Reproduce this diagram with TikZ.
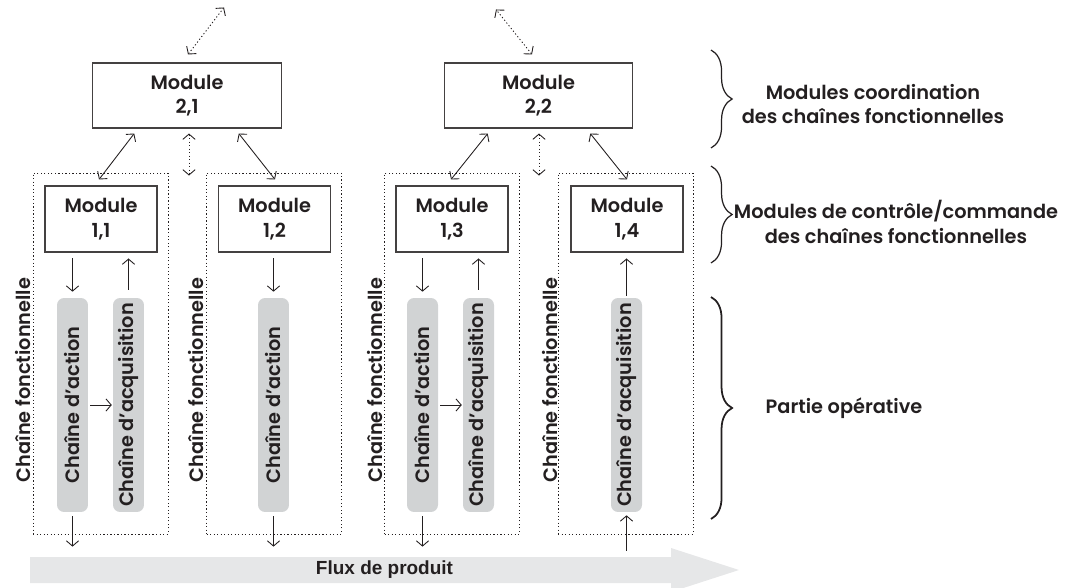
\documentclass[tikz,border=0pt]{standalone}
\usepackage{fontspec}
\setmainfont{Poppins}[UprightFont=* Medium, BoldFont=* SemiBold]
\newfontfamily\fluxfont{Liberation Sans}
\usetikzlibrary{arrows.meta,positioning,decorations.pathreplacing}

\definecolor{ink}{HTML}{231F20}
\definecolor{bargray}{HTML}{D1D3D4}
\definecolor{fluxgray}{HTML}{E6E7E8}

\begin{document}
\begin{tikzpicture}[x=0.02cm,y=-0.02cm,
	font=\fontsize{11}{14}\selectfont\bfseries, text=ink,
	module/.style={draw=ink!85, line width=0.6pt, align=center, inner sep=0pt,
		minimum width=2.24cm, minimum height=1.32cm},
	coordmod/.style={module, minimum width=3.77cm, minimum height=1.3cm},
	chaine/.style={draw=ink, line width=0.5pt, dash pattern=on 0.7pt off 1.3pt,
		minimum width=2.7cm, minimum height=7.22cm, inner sep=0pt},
	bar/.style={fill=bargray, rounded corners=4pt, rotate=90, inner sep=0pt,
		minimum width=4.28cm, minimum height=0.62cm},
	fonct/.style={rotate=90, inner sep=0pt},
	tip/.tip={Straight Barb[length=3pt,width=7pt]},
	arr/.style={-tip, draw=ink, line width=0.5pt},
	darr/.style={tip-tip, draw=ink, line width=0.5pt},
	dotarr/.style={darr, dash pattern=on 0.7pt off 1.3pt},
	accol/.style={draw=ink, line width=0.7pt, decorate,
		decoration={brace, amplitude=12pt}},
	label/.style={align=center, inner sep=0pt}
	]
	\useasboundingbox (0,0) rectangle (1069,588);

	% modules de coordination
	\node[coordmod] (m21) at (187,95.5) {Module\\2,1};
	\node[coordmod] (m22) at (538.5,95.5) {Module\\2,2};

	% chaines fonctionnelles
	\node[chaine] (f1) at (100.5,353.5) {};
	\node[chaine] (f2) at (274,353.5) {};
	\node[chaine] (f3) at (452,353.5) {};
	\node[chaine] (f4) at (625.5,353.5) {};

	\node[fonct] (t1) at (23,380) {Chaîne fonctionnelle};
	\node[fonct] (t2) at (196,380) {Chaîne fonctionnelle};
	\node[fonct] (t3) at (375,380) {Chaîne fonctionnelle};
	\node[fonct] (t4) at (550,380) {Chaîne fonctionnelle};

	% modules de controle/commande
	\node[module] (m11) at (101,219) {Module\\1,1};
	\node[module] (m12) at (274.5,219) {Module\\1,2};
	\node[module] (m13) at (452,219) {Module\\1,3};
	\node[module] (m14) at (627,219) {Module\\1,4};

	% chaines d'action / d'acquisition
	\node[bar] (a1) at (72.5,405) {Chaîne d'action};
	\node[bar] (q1) at (128.5,405) {Chaîne d'acquisition};
	\node[bar] (a2) at (273.5,405) {Chaîne d'action};
	\node[bar] (a3) at (422.5,405) {Chaîne d'action};
	\node[bar] (q3) at (478.5,405) {Chaîne d'acquisition};
	\node[bar] (q4) at (626.5,405) {Chaîne d'acquisition};

	% flux de produit
	\fill[fluxgray] (30,557) -- (671,557) -- (671,548) -- (739,570)
		-- (671,592) -- (671,583) -- (30,583) -- cycle;
	\node[inner sep=0pt, minimum height=0.52cm, font=\fluxfont\fontsize{10.8}{12}\selectfont\bfseries]
		(flux) at (384.5,570) {Flux de produit};

	% points des liaisons
	\path (m21.south west) ++(42,5) coordinate (m21a);
	\path (m21.south east) ++(-43,5) coordinate (m21b);
	\path (m21.south) ++(2,5) coordinate (m21c);
	\path (m21c) ++(0,42) coordinate (m21d);
	\path (m21.north) ++(1,-8) coordinate (m21e);
	\path (m21e) ++(36,-47) coordinate (m21f);
	\path (m22.south west) ++(44,5) coordinate (m22a);
	\path (m22.south east) ++(-43,5) coordinate (m22b);
	\path (m22.south) ++(0.5,5) coordinate (m22c);
	\path (m22c) ++(0,42) coordinate (m22d);
	\path (m22.north) ++(-6.5,-8) coordinate (m22e);
	\path (m22e) ++(-36,-45) coordinate (m22f);
	\path (m11.north) ++(-2,-6) coordinate (m11n);
	\path (m12.north) ++(0.5,-6) coordinate (m12n);
	\path (m13.north) ++(-1,-6) coordinate (m13n);
	\path (m14.north) ++(0,-6) coordinate (m14n);

	\draw[darr] (m21a) -- (m11n);
	\draw[darr] (m21b) -- (m12n);
	\draw[dotarr] (m21c) -- (m21d);
	\draw[dotarr] (m21e) -- (m21f);
	\draw[darr] (m22a) -- (m13n);
	\draw[darr] (m22b) -- (m14n);
	\draw[dotarr] (m22c) -- (m22d);
	\draw[dotarr] (m22e) -- (m22f);

	% commandes et comptes rendus
	\draw[arr, shorten <=3.4pt, shorten >=3.4pt] (a1.east |- m11.south) -- (a1.east);
	\draw[arr, shorten <=4.5pt, shorten >=3.4pt] (q1.east) -- (q1.east |- m11.south);
	\draw[arr, shorten <=3.4pt, shorten >=3.4pt] (a2.east |- m12.south) -- (a2.east);
	\draw[arr, shorten <=3.4pt, shorten >=3.4pt] (a3.east |- m13.south) -- (a3.east);
	\draw[arr, shorten <=4.5pt, shorten >=3.4pt] (q3.east) -- (q3.east |- m13.south);
	\draw[arr, shorten <=1.2pt, shorten >=3.4pt] (q4.east) -- (q4.east |- m14.south);

	\draw[arr, shorten <=1pt, shorten >=0.5pt] (a1.south) -- (a1.south -| q1.north);
	\draw[arr, shorten <=1pt, shorten >=0.5pt] (a3.south) -- (a3.south -| q3.north);

	\draw[arr, shorten <=2.3pt, shorten >=5.7pt] (a1.west) -- (a1.west |- flux.north);
	\draw[arr, shorten <=2.3pt, shorten >=5.7pt] (a2.west) -- (a2.west |- flux.north);
	\draw[arr, shorten <=2.3pt, shorten >=5.7pt] (a3.west) -- (a3.west |- flux.north);
	\draw[arr, shorten <=3.4pt, shorten >=1.7pt] (q4.west |- flux.north) -- (q4.west);

	% accolades
	\draw[accol] (711,50) -- (711,148);
	\draw[accol] (711,166) -- (711,263);
	\draw[accol, line width=1pt] (711,297) -- (711,519);

	\node[label] (l1) at (873,104) {Modules coordination\\des chaînes fonctionnelles};
	\node[label] (l2) at (896,222) {Modules de contrôle/commande\\des chaînes fonctionnelles};
	\node[label] (l3) at (844,408) {Partie opérative};
\end{tikzpicture}
\end{document}
